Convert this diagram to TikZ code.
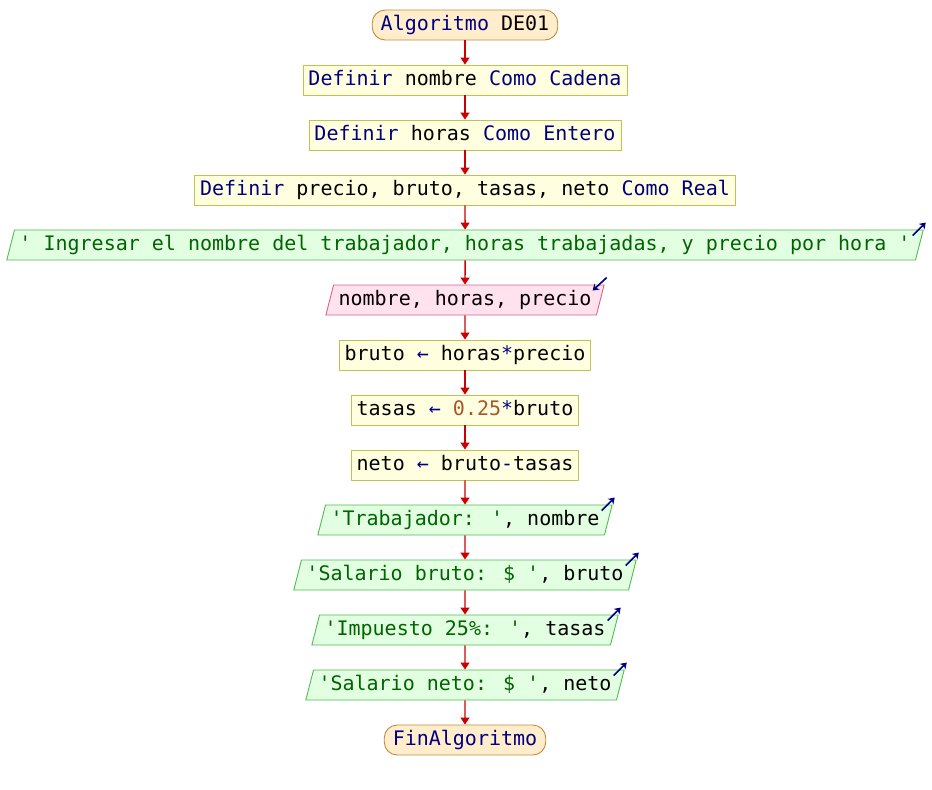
\documentclass[tikz,border=0pt]{standalone}
\usepackage{fontspec}
\newfontfamily\codefont{DejaVu Sans Mono}
\usetikzlibrary{shapes.geometric,arrows.meta}
\definecolor{kwblue}{HTML}{00007F}
\definecolor{strgreen}{HTML}{006400}
\definecolor{numbrown}{HTML}{A5582A}
\definecolor{flowred}{HTML}{CC0000}
\definecolor{procfill}{HTML}{FFFFE0}
\definecolor{procline}{HTML}{C2C250}
\definecolor{endfill}{HTML}{FFEDCB}
\definecolor{endline}{HTML}{C38A3C}
\definecolor{outfill}{HTML}{E2FFE2}
\definecolor{outline}{HTML}{50BC50}
\definecolor{infill}{HTML}{FFE2EE}
\definecolor{inline}{HTML}{D0688F}
\newcommand{\kwd}[1]{\textcolor{kwblue}{#1}}
\newcommand{\strg}[1]{\textcolor{strgreen}{#1}}
\newcommand{\numb}[1]{\textcolor{numbrown}{#1}}
\tikzset{
	box/.style={minimum height=30pt, inner ysep=0pt, text height=15pt, text depth=4pt, line width=0.9pt},
	proc/.style={box, rectangle, draw=procline, fill=procfill, inner xsep=5.5pt},
	startend/.style={box, rectangle, rounded corners=13pt, draw=endline, fill=endfill, inner xsep=8.5pt},
	io/.style={box, trapezium, trapezium left angle=68, trapezium right angle=112, trapezium stretches body, inner xsep=5pt},
	outbox/.style={io, draw=outline, fill=outfill},
	inbox/.style={io, draw=inline, fill=infill},
	flow/.style={draw=flowred, line width=1.4pt, -{Triangle[width=9pt,length=7pt]}},
	iomark/.style={draw=kwblue, line width=1.6pt, -{Stealth[width=8pt,length=6pt]}}
}
\begin{document}
\begin{tikzpicture}[x=1pt, y=-1pt, font=\codefont\fontsize{20}{24}\selectfont, line join=round]
		\useasboundingbox (0,0) rectangle (932,790);
		\node[startend] (alg) at (465,25) {\kwd{Algoritmo} DE01};
		\node[proc] (d1) at (465,80) {\kwd{Definir} nombre \kwd{Como Cadena}};
		\node[proc] (d2) at (465,135) {\kwd{Definir} horas \kwd{Como Entero}};
		\node[proc] (d3) at (465,190) {\kwd{Definir} precio, bruto, tasas, neto \kwd{Como Real}};
		\node[outbox] (o1) at (465,245) {\strg{' Ingresar el nombre del trabajador, horas trabajadas, y precio por hora '}};
		\node[inbox] (i1) at (465,300) {nombre, horas, precio};
		\node[proc] (a1) at (465,355) {bruto \kwd{←} horas\kwd{*}precio};
		\node[proc] (a2) at (465,410) {tasas \kwd{←} \numb{0.25}\kwd{*}bruto};
		\node[proc] (a3) at (465,465) {neto \kwd{←} bruto\kwd{-}tasas};
		\node[outbox] (o2) at (465,520) {\strg{'Trabajador: '}, nombre};
		\node[outbox] (o3) at (465,575) {\strg{'Salario bruto: \$ '}, bruto};
		\node[outbox] (o4) at (465,630) {\strg{'Impuesto 25\%: '}, tasas};
		\node[outbox] (o5) at (465,685) {\strg{'Salario neto: \$ '}, neto};
		\node[startend] (fin) at (465,740) {\kwd{FinAlgoritmo}};
		% flujo
		\draw[flow] (alg.south) -- (d1.north);
		\draw[flow] (d1.south) -- (d2.north);
		\draw[flow] (d2.south) -- (d3.north);
		\draw[flow] (d3.south) -- (o1.north);
		\draw[flow] (o1.south) -- (i1.north);
		\draw[flow] (i1.south) -- (a1.north);
		\draw[flow] (a1.south) -- (a2.north);
		\draw[flow] (a2.south) -- (a3.north);
		\draw[flow] (a3.south) -- (o2.north);
		\draw[flow] (o2.south) -- (o3.north);
		\draw[flow] (o3.south) -- (o4.north);
		\draw[flow] (o4.south) -- (o5.north);
		\draw[flow] (o5.south) -- (fin.north);
		% marcas de entrada/salida
		\draw[iomark] (o1.top right corner) ++(-11,6) -- ++(13,-13);
		\draw[iomark] (i1.top right corner) ++(2,-7) -- ++(-14,13);
		\draw[iomark] (o2.top right corner) ++(-11,6) -- ++(13,-13);
		\draw[iomark] (o3.top right corner) ++(-11,6) -- ++(13,-13);
		\draw[iomark] (o4.top right corner) ++(-11,6) -- ++(13,-13);
		\draw[iomark] (o5.top right corner) ++(-11,6) -- ++(13,-13);
\end{tikzpicture}
\end{document}
